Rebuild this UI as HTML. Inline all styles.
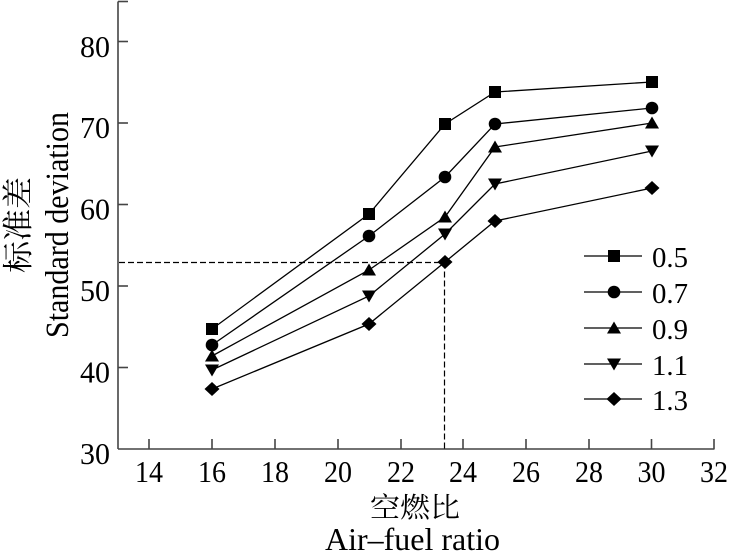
<!DOCTYPE html>
<html>
<head>
<meta charset="utf-8">
<style>
html,body{margin:0;padding:0;background:#fff;}
svg{display:block;}
text{font-family:"Liberation Serif","Noto Serif CJK SC",serif;fill:#000;}
.cjk{font-family:"Liberation Serif","Noto Serif CJK SC","Noto Sans CJK SC",serif;}
</style>
</head>
<body>
<svg width="730" height="555" viewBox="0 0 730 555" xmlns="http://www.w3.org/2000/svg">
  <defs>
    <rect id="sq" x="-6" y="-6" width="12" height="12" fill="#000"/>
    <circle id="ci" r="6.3" fill="#000"/>
    <polygon id="tu" points="-7,5.5 7,5.5 0,-6.5" fill="#000"/>
    <polygon id="td" points="-7,-5.5 7,-5.5 0,6.5" fill="#000"/>
    <polygon id="di" points="0,-7 7.5,0 0,7 -7.5,0" fill="#000"/>
  </defs>

  <!-- axes -->
  <g stroke="#444" stroke-width="1.6" fill="none">
    <line x1="118" y1="1.5" x2="118" y2="449"/>
    <line x1="118" y1="449" x2="714.5" y2="449"/>
    <!-- y ticks -->
    <line x1="118" y1="1.5" x2="128" y2="1.5"/>
    <line x1="118" y1="41.5" x2="128" y2="41.5"/>
    <line x1="118" y1="123" x2="128" y2="123"/>
    <line x1="118" y1="204.5" x2="128" y2="204.5"/>
    <line x1="118" y1="286" x2="128" y2="286"/>
    <line x1="118" y1="367.5" x2="128" y2="367.5"/>
    <!-- x ticks -->
    <line x1="149" y1="449" x2="149" y2="439"/>
    <line x1="212" y1="449" x2="212" y2="439"/>
    <line x1="275" y1="449" x2="275" y2="439"/>
    <line x1="338" y1="449" x2="338" y2="439"/>
    <line x1="401" y1="449" x2="401" y2="439"/>
    <line x1="463" y1="449" x2="463" y2="439"/>
    <line x1="526" y1="449" x2="526" y2="439"/>
    <line x1="589" y1="449" x2="589" y2="439"/>
    <line x1="651.5" y1="449" x2="651.5" y2="439"/>
    <line x1="714" y1="449" x2="714" y2="439"/>
  </g>

  <!-- y tick labels -->
  <g font-size="31" text-anchor="end">
    <text x="110" y="57" textLength="30" lengthAdjust="spacingAndGlyphs">80</text>
    <text x="110" y="138" textLength="30" lengthAdjust="spacingAndGlyphs">70</text>
    <text x="110" y="219.5" textLength="30" lengthAdjust="spacingAndGlyphs">60</text>
    <text x="110" y="301" textLength="30" lengthAdjust="spacingAndGlyphs">50</text>
    <text x="110" y="382.5" textLength="30" lengthAdjust="spacingAndGlyphs">40</text>
    <text x="110" y="464" textLength="30" lengthAdjust="spacingAndGlyphs">30</text>
  </g>

  <!-- x tick labels -->
  <g font-size="31">
    <text x="135" y="482" textLength="28" lengthAdjust="spacingAndGlyphs">14</text>
    <text x="198" y="482" textLength="28" lengthAdjust="spacingAndGlyphs">16</text>
    <text x="261" y="482" textLength="28" lengthAdjust="spacingAndGlyphs">18</text>
    <text x="324" y="482" textLength="28" lengthAdjust="spacingAndGlyphs">20</text>
    <text x="387" y="482" textLength="28" lengthAdjust="spacingAndGlyphs">22</text>
    <text x="449" y="482" textLength="28" lengthAdjust="spacingAndGlyphs">24</text>
    <text x="512" y="482" textLength="28" lengthAdjust="spacingAndGlyphs">26</text>
    <text x="575" y="482" textLength="28" lengthAdjust="spacingAndGlyphs">28</text>
    <text x="637.5" y="482" textLength="28" lengthAdjust="spacingAndGlyphs">30</text>
    <text x="700" y="482" textLength="28" lengthAdjust="spacingAndGlyphs">32</text>
  </g>

  <!-- axis titles -->
  <text class="cjk" x="370" y="517" font-size="28" textLength="90" lengthAdjust="spacingAndGlyphs">空燃比</text>
  <text x="325" y="550" font-size="32" textLength="175" lengthAdjust="spacingAndGlyphs">Air–fuel ratio</text>

  <text class="cjk" transform="translate(29,273) rotate(-90)" x="0" y="0" font-size="31" textLength="96" lengthAdjust="spacingAndGlyphs">标准差</text>
  <text transform="translate(68,338) rotate(-90)" x="0" y="0" font-size="33" textLength="226" lengthAdjust="spacingAndGlyphs">Standard deviation</text>

  <!-- dashed guide lines -->
  <g stroke="#000" stroke-width="1.2" stroke-dasharray="6,3" fill="none">
    <line x1="119" y1="262.5" x2="444.5" y2="262.5"/>
    <line x1="444.5" y1="262.5" x2="444.5" y2="449"/>
  </g>

  <!-- series lines -->
  <g stroke="#000" stroke-width="1.3" fill="none">
    <polyline points="212,329 369,214 445,124 495,92 652,82"/>
    <polyline points="212,345 369,236 445,177 495,124 652,108"/>
    <polyline points="212,356 369,270 445,217 495,147 652,123"/>
    <polyline points="212,370 369,296 445,234 495,184 652,151"/>
    <polyline points="212,389 369,324 445,262 495,221 652,188"/>
  </g>

  <!-- markers -->
  <use href="#sq" x="212" y="329"/><use href="#sq" x="369" y="214"/><use href="#sq" x="445" y="124"/><use href="#sq" x="495" y="92"/><use href="#sq" x="652" y="82"/>
  <use href="#ci" x="212" y="345"/><use href="#ci" x="369" y="236"/><use href="#ci" x="445" y="177"/><use href="#ci" x="495" y="124"/><use href="#ci" x="652" y="108"/>
  <use href="#tu" x="212" y="356"/><use href="#tu" x="369" y="270"/><use href="#tu" x="445" y="217"/><use href="#tu" x="495" y="147"/><use href="#tu" x="652" y="123"/>
  <use href="#td" x="212" y="370"/><use href="#td" x="369" y="296"/><use href="#td" x="445" y="234"/><use href="#td" x="495" y="184"/><use href="#td" x="652" y="151"/>
  <use href="#di" x="212" y="389"/><use href="#di" x="369" y="324"/><use href="#di" x="445" y="262"/><use href="#di" x="495" y="221"/><use href="#di" x="652" y="188"/>

  <!-- legend -->
  <g stroke="#000" stroke-width="1.3">
    <line x1="584" y1="256" x2="642" y2="256"/>
    <line x1="584" y1="292" x2="642" y2="292"/>
    <line x1="584" y1="328" x2="642" y2="328"/>
    <line x1="584" y1="364" x2="642" y2="364"/>
    <line x1="584" y1="399" x2="642" y2="399"/>
  </g>
  <use href="#sq" x="614" y="256"/>
  <use href="#ci" x="614" y="292"/>
  <use href="#tu" x="614" y="328"/>
  <use href="#td" x="614" y="364"/>
  <use href="#di" x="614" y="399"/>
  <g font-size="29">
    <text x="652" y="267" textLength="36" lengthAdjust="spacingAndGlyphs">0.5</text>
    <text x="652" y="303" textLength="36" lengthAdjust="spacingAndGlyphs">0.7</text>
    <text x="652" y="339" textLength="36" lengthAdjust="spacingAndGlyphs">0.9</text>
    <text x="652" y="375" textLength="36" lengthAdjust="spacingAndGlyphs">1.1</text>
    <text x="652" y="410" textLength="36" lengthAdjust="spacingAndGlyphs">1.3</text>
  </g>
</svg>
</body>
</html>
